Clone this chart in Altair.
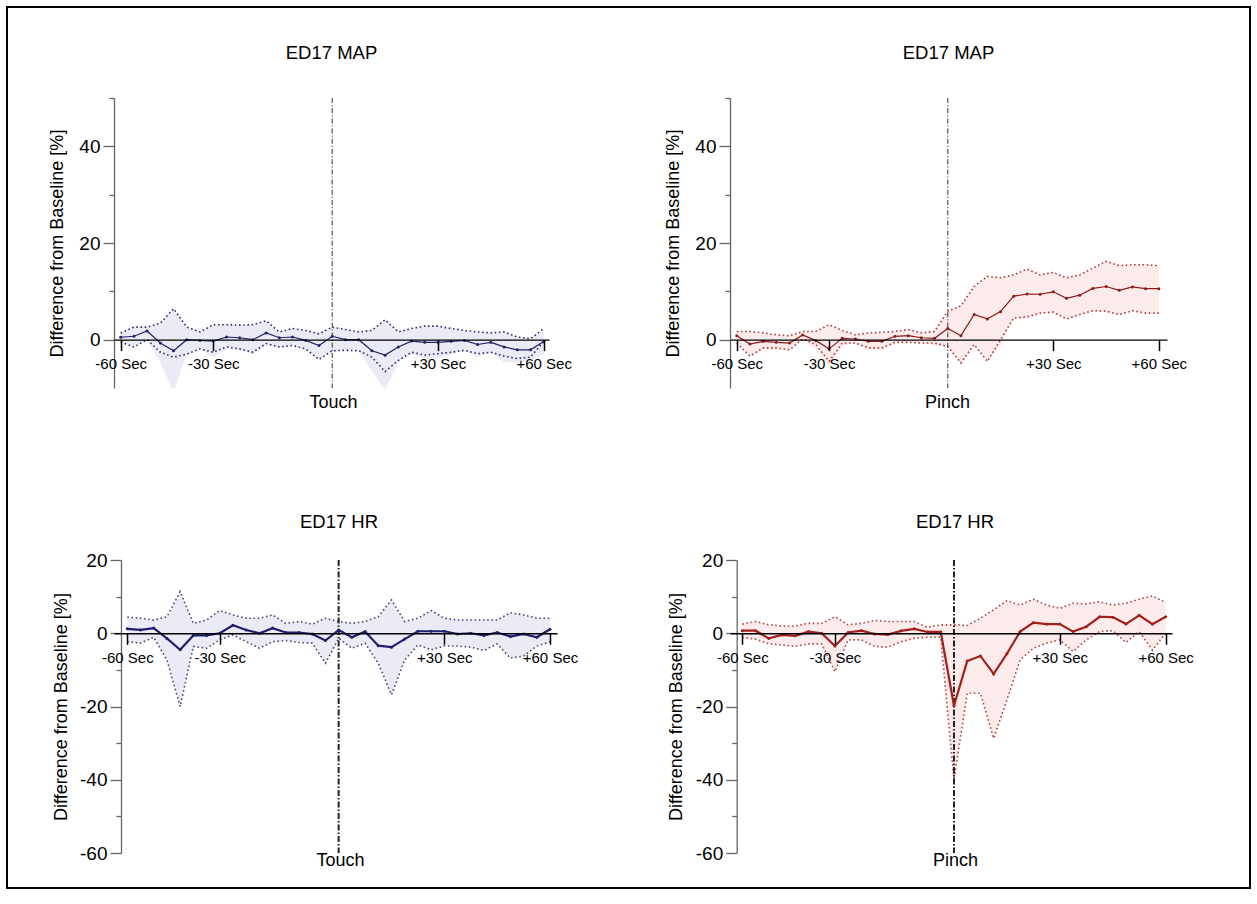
import altair as alt
import pandas as pd

# ---------------- data ----------------
idx = list(range(33))
x_tick_pos = [0, 7, 24, 32]
x_tick_text = ["-60 Sec", "-30 Sec", "+30 Sec", "+60 Sec"]
event_idx = 16

# ED17 MAP - Touch
tl_mean = [0.5, 0.7, 1.8, -0.7, -2.3, 0.0, -0.15, -0.3, 0.55, 0.4, 0.0, 1.4, 0.4, 0.55, -0.15, -1.2, 0.7,
           0.0, 0.0, -2.3, -3.2, -1.5, -0.3, -0.55, -0.55, -0.35, -0.15, -1.0, -0.55, -1.5, -2.1, -2.1, -0.4]
tl_upper = [1.4, 2.6, 2.6, 3.4, 6.4, 2.6, 1.6, 3.1, 3.1, 3.0, 3.1, 3.9, 1.6, 2.3, 1.9, 1.2, 2.6,
            2.1, 1.6, 1.9, 4.1, 1.6, 2.3, 2.8, 2.8, 2.3, 1.9, 1.6, 1.4, 1.6, 0.55, 0.2, 2.3]
tl_lower = [-0.5, -1.5, 0.0, -2.6, -3.6, -3.0, -1.9, -2.6, -1.5, -1.9, -2.6, -0.8, -1.5, -1.2, -1.9, -4.1, -2.3,
            -2.2, -2.3, -3.6, -6.6, -4.3, -2.6, -3.2, -2.9, -2.6, -2.2, -2.9, -2.6, -3.4, -3.9, -3.6, -0.4]
tl_band_lo = [-0.5, -1.5, 0.0, -4.8, -11.0, -3.0, -1.9, -3.7, -2.0, -2.2, -3.1, -1.1, -1.5, -1.2, -2.2, -4.1, -2.3,
              -2.2, -2.3, -6.5, -10.5, -4.6, -2.9, -3.9, -3.9, -3.0, -2.2, -3.6, -2.6, -4.6, -4.75, -4.4, -3.1]

# ED17 MAP - Pinch
tr_mean = [0.83, -0.9, -0.35, -0.55, -0.7, 0.97, -0.2, -1.9, 0.28, 0.14, -0.35, -0.35, 0.7, 0.83, 0.4, 0.28, 2.3,
           0.83, 5.2, 4.3, 5.8, 9.0, 9.45, 9.4, 9.9, 8.55, 9.2, 10.6, 11.0, 10.2, 10.9, 10.55, 10.55]
tr_upper = [1.7, 1.7, 1.4, 1.0, 0.8, 1.7, 1.7, 3.1, 1.9, 1.0, 1.4, 1.5, 1.7, 2.1, 1.4, 1.7, 5.9,
            7.0, 11.0, 13.1, 12.8, 13.4, 14.6, 13.4, 13.9, 12.8, 13.4, 14.8, 16.2, 15.3, 15.5, 15.5, 15.3]
tr_lower = [-0.7, -3.4, -1.7, -1.7, -2.1, 0.14, -1.0, -4.5, -0.7, -0.7, -1.7, -1.7, -0.55, -0.55, -0.7, -0.7, -1.4,
            -4.8, -1.0, -4.5, 0.0, 4.5, 4.7, 5.5, 5.7, 4.3, 5.2, 6.0, 5.9, 5.2, 6.0, 5.5, 5.5]
tr_band_lo = [-0.7, -3.5, -2.1, -2.1, -2.2, 0.14, -2.1, -5.5, -1.34, -0.72, -2.1, -2.2, -0.55, -0.55, -0.7, -1.14, -1.4,
              -5.3, -1.0, -4.5, -1.2, 4.5, 4.3, 5.4, 5.7, 4.3, 5.0, 6.0, 5.8, 5.1, 6.0, 5.5, 5.5]

# ED17 HR - Touch
bl_mean = [1.2, 0.9, 1.4, -1.4, -4.5, -0.6, -0.6, 0.0, 2.2, 0.9, 0.0, 1.4, 0.2, 0.2, -0.2, -2.0, 0.9,
           -1.1, 0.45, -3.4, -3.8, -1.6, 0.55, 0.55, 0.55, -0.2, 0.0, -0.6, 0.2, -0.9, -0.2, -1.1, 1.1]
bl_upper = [4.4, 4.1, 3.6, 4.5, 11.4, 2.7, 3.6, 6.2, 5.0, 4.1, 4.1, 5.0, 2.7, 3.2, 2.5, 4.1, 3.2,
            2.7, 3.2, 4.5, 9.1, 3.2, 4.1, 6.2, 4.1, 3.6, 3.6, 3.6, 3.6, 5.6, 5.0, 4.1, 4.1]
bl_lower = [-2.3, -2.7, -1.1, -7.3, -20.0, -3.6, -4.1, -1.8, -0.45, -2.3, -4.1, -2.3, -2.0, -2.5, -2.7, -8.2, -1.4,
            -4.1, -2.7, -8.2, -16.8, -7.3, -3.2, -4.5, -3.5, -3.5, -3.8, -4.7, -2.9, -6.8, -6.2, -3.5, -2.3]

# ED17 HR - Pinch
br_mean = [0.7, 0.7, -1.4, -0.45, -0.7, 0.45, 0.0, -3.5, 0.2, 0.7, -0.2, -0.35, 0.65, 1.2, 0.35, 0.35, -19.8,
           -7.6, -6.2, -11.1, -5.6, 0.45, 2.9, 2.5, 2.5, 0.45, 1.8, 4.5, 4.4, 2.5, 4.9, 2.5, 4.5]
br_upper = [2.5, 3.2, 2.3, 2.0, 2.0, 2.7, 2.7, 4.5, 2.3, 2.7, 3.5, 3.2, 3.2, 3.2, 1.6, 2.3, 2.3,
            2.1, 4.1, 6.4, 8.9, 7.7, 9.3, 7.7, 6.8, 8.2, 8.0, 8.6, 7.7, 8.2, 9.3, 10.2, 8.4]
br_lower = [-1.1, -1.6, -2.9, -3.2, -3.6, -2.9, -2.9, -10.5, -1.8, -1.8, -3.6, -3.8, -2.3, -1.4, -1.1, -1.1, -40.0,
            -16.4, -16.4, -28.7, -18.2, -7.3, -4.1, -2.7, -1.8, -5.0, -1.8, 0.45, 0.7, -2.5, 0.45, -4.6, 0.0]

FONT = "Liberation Sans"

x_label_expr = " : ".join(
    f"datum.value == {p} ? '{t}'" for p, t in zip(x_tick_pos, x_tick_text)
) + " : ''"


def panel(title, xtitle, mean, upper, lower, band_lo, ydom, ymajor, yminor, xdom, w, h,
          yax_off, ytitle_x, xtitle_x, xtitle_y, title_dx, title_y, style, frame=False):
    df = pd.DataFrame({"i": idx, "mean": mean, "upper": upper, "lower": lower, "blo": band_lo})
    zero_off = -(h * (0 - ydom[0]) / (ydom[1] - ydom[0]))
    xs = alt.Scale(domain=xdom, nice=False, zero=False)
    ys = alt.Scale(domain=ydom, nice=False, zero=False)
    major_test = "indexof([" + ",".join(str(v) for v in ymajor) + "], datum.value) >= 0"
    xaxis = alt.Axis(
        values=x_tick_pos, labelExpr=x_label_expr, offset=zero_off, grid=False, zindex=1,
        tickSize=11, tickWidth=1.5, tickColor="black", domainColor="black", domainWidth=1.3,
        labelFont=FONT, labelFontSize=15, labelColor="black", labelPadding=6,
        labelFlush=False, labelOverlap=False,
        title=xtitle, titleFont=FONT, titleFontSize=18, titleFontWeight="normal", titleColor="black",
        titleX=xtitle_x, titleY=xtitle_y, titleBaseline="middle", titleAlign="center",
    )
    yaxis = alt.Axis(
        values=sorted(ymajor + yminor), labelExpr=major_test + " ? toString(datum.value) : ''",
        offset=yax_off, grid=False,
        tickSize={"condition": {"test": major_test, "value": 11}, "value": 5},
        tickWidth=1.3, tickColor="#666666", domainColor="#666666", domainWidth=1.3,
        labelFont=FONT, labelFontSize=19, labelColor="black", labelPadding=3,
        labelFlush=False, labelOverlap=False,
        title="Difference from Baseline [%]", titleFont=FONT, titleFontSize=18,
        titleFontWeight="normal", titleColor="black", titleAngle=270,
        titleX=ytitle_x, titleY=h / 2, titleBaseline="middle", titleAlign="center",
    )
    X = alt.X("i:Q", scale=xs, axis=xaxis)
    base = alt.Chart(df)
    band = base.mark_area(color=style["band"], opacity=1, clip=True).encode(
        x=X, y=alt.Y("blo:Q", scale=ys, axis=yaxis), y2="upper:Q")
    up = base.mark_line(color=style["dot"], strokeDash=[1.6, 2.6], strokeWidth=1.6, clip=True).encode(
        x=X, y=alt.Y("upper:Q", scale=ys, axis=yaxis))
    lo = base.mark_line(color=style["dot"], strokeDash=[1.6, 2.6], strokeWidth=1.6, clip=True).encode(
        x=X, y=alt.Y("lower:Q", scale=ys, axis=yaxis))
    vline = alt.Chart(pd.DataFrame({"i": [event_idx]})).mark_rule(
        color=style["vcol"], strokeDash=style["vdash"], strokeWidth=style["vw"]).encode(x=X)
    line = base.mark_line(
        color=style["line"], strokeWidth=style["lw"], clip=True,
        point=alt.OverlayMarkDef(filled=True, size=style["ps"], color=style["line"]),
    ).encode(x=X, y=alt.Y("mean:Q", scale=ys, axis=yaxis))
    ttl = alt.Chart(pd.DataFrame({"t": [title]})).mark_text(
        font=FONT, fontSize=18.5, color="black", align="center", baseline="alphabetic"
    ).encode(text="t:N", x=alt.value(w / 2 + title_dx), y=alt.value(title_y))
    layers = [band, up, lo, vline, line, ttl]
    if frame:
        fr = alt.Chart(pd.DataFrame({"f": [0]})).mark_rect(
            filled=False, stroke="black", strokeWidth=2, clip=False
        ).encode(x=alt.value(-107), x2=alt.value(1136), y=alt.value(-91), y2=alt.value(790))
        layers.append(fr)
    return alt.layer(*layers).properties(width=w, height=h)


blue_top = {"band": "#ebebf6", "dot": "#2e2e6e", "line": "#22226a", "lw": 1.2, "ps": 9,
            "vcol": "#444444", "vdash": [5, 2, 1.2, 2], "vw": 1.1}
red_top = {"band": "#fcebeb", "dot": "#b03a3a", "line": "#8b1c1c", "lw": 1.2, "ps": 9,
           "vcol": "#444444", "vdash": [5, 2, 1.2, 2], "vw": 1.1}
blue_bot = {"band": "#ebebf6", "dot": "#4a4a7a", "line": "#1f1f6e", "lw": 2.2, "ps": 9,
            "vcol": "#222222", "vdash": [6, 2, 1.5, 2], "vw": 2}
red_bot = {"band": "#fcebeb", "dot": "#b04545", "line": "#a01f1f", "lw": 2.2, "ps": 9,
           "vcol": "#222222", "vdash": [6, 2, 1.5, 2], "vw": 2}

tl = panel("ED17 MAP", "Touch", tl_mean, tl_upper, tl_lower, tl_band_lo, [-10, 50], [0, 20, 40], [10, 30, 50],
           [-0.507, 32.4], 435, 290, 0, -56.5, 219, 62.5, 0, -39, blue_top, frame=True)
tr = panel("ED17 MAP", "Pinch", tr_mean, tr_upper, tr_lower, tr_band_lo, [-10, 50], [0, 20, 40], [10, 30, 50],
           [-0.51, 32.62], 437, 290, 0, -56.5, 217, 62.5, 0, -39, red_top)
bl = panel("ED17 HR", "Touch", bl_mean, bl_upper, bl_lower, bl_lower, [-60, 20], [20, 0, -20, -40, -60],
           [10, -10, -30, -50], [-1.007, 32.53], 443, 293, -7, -60, 226, 227.7, 3.5, -32, blue_bot)
br = panel("ED17 HR", "Pinch", br_mean, br_upper, br_lower, br_lower, [-60, 20], [20, 0, -20, -40, -60],
           [10, -10, -30, -50], [-0.93, 32.48], 442, 293, -6.7, -60, 225, 227.7, 4, -32, red_bot)

chart = alt.concat(
    tl, tr, bl, br, columns=2, bounds="flush", align="all",
    spacing={"row": 169, "column": 173},
).properties(
    padding={"left": 6, "top": 6, "right": 5, "bottom": 5},
    background="white",
).configure_view(stroke=None, strokeWidth=0)

chart.save("out.html", embed_options={"renderer": "svg", "actions": False})
